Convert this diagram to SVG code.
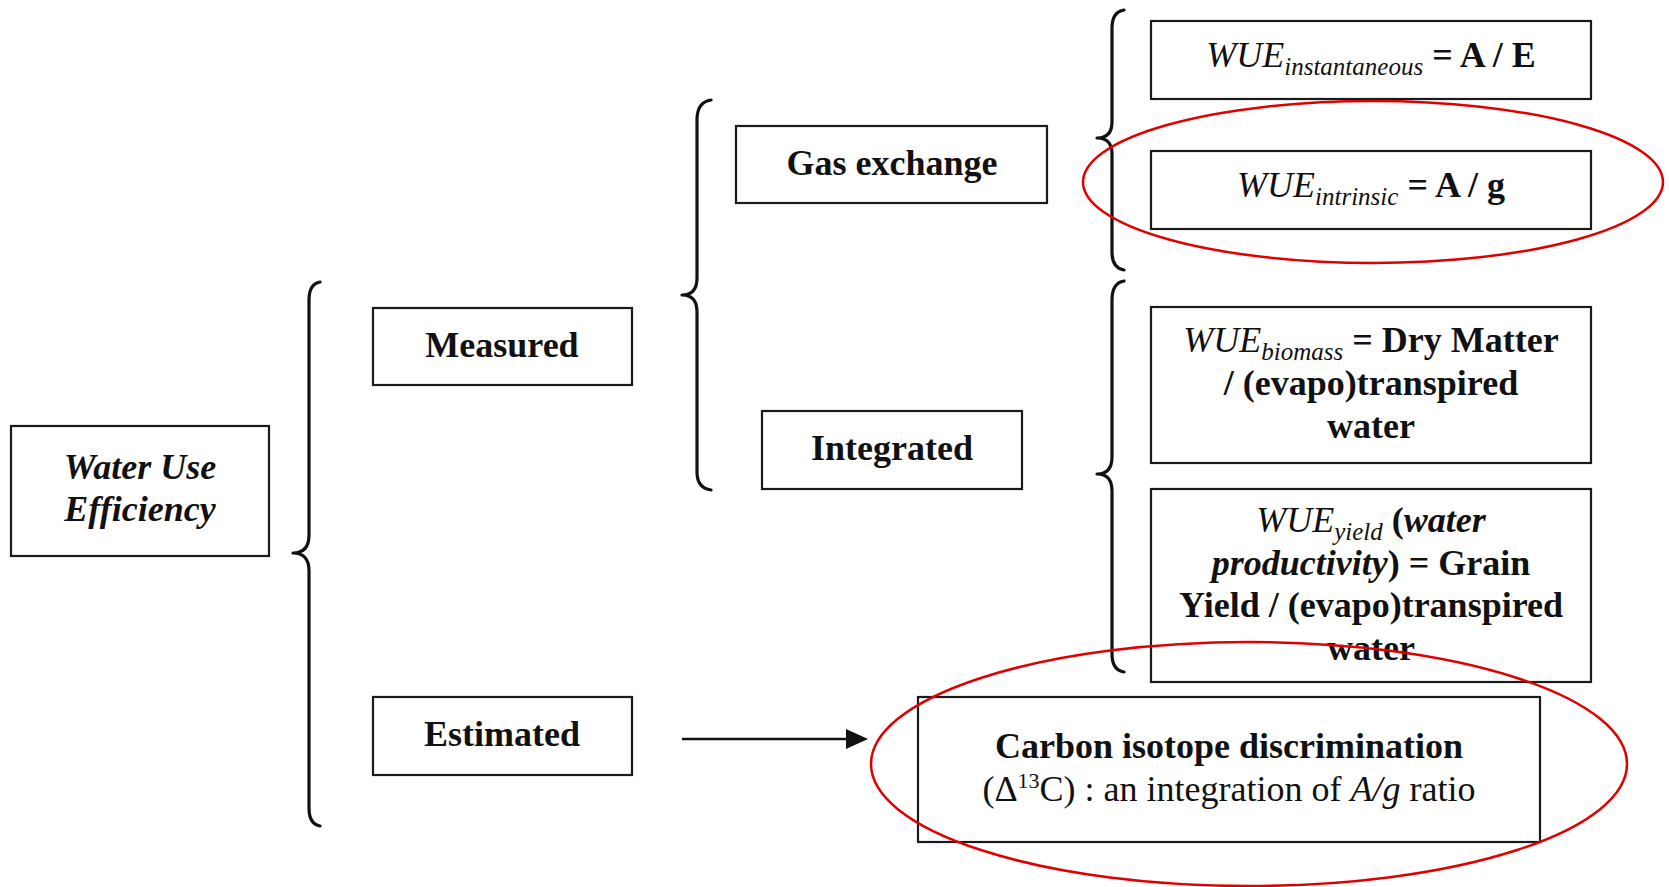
<svg xmlns="http://www.w3.org/2000/svg" width="1669" height="887" viewBox="0 0 1669 887">
<style>
.box{fill:#fff;stroke:#1a1a1a;stroke-width:2.2}
.t{font-family:"Liberation Serif","Times New Roman",serif;font-size:36px;fill:#111;text-anchor:middle}
.b{font-weight:bold}
.i{font-style:italic}
.sub{font-size:25px}
.brace{fill:none;stroke:#111;stroke-width:3.2;stroke-linecap:round;stroke-linejoin:round}
.conn{fill:none;stroke:#111;stroke-width:2.5}
.red{fill:none;stroke:#e00000;stroke-width:2.5}
</style>
<defs>
<marker id="arr" markerWidth="10" markerHeight="10" refX="8" refY="5" orient="auto" markerUnits="userSpaceOnUse" viewBox="0 0 10 10">
<path d="M0,0 L10,5 L0,10 z" fill="#111"/>
</marker>
</defs>
<rect width="1669" height="887" fill="#fff"/>

<g id="connectors">
<path class="brace" d="M320,282 Q309,284 309,300 L309,535 Q309,553 293,553 Q309,553 309,571 L309,808 Q309,824 320,826"/>
<path class="brace" d="M711,100 Q697,102 697,120 L697,278 Q697,295 682,295 Q697,295 697,312 L697,472 Q697,488 711,490"/>
<path class="brace" d="M1124,10 Q1112,12 1112,28 L1112,122 Q1112,138 1097,138 Q1112,138 1112,154 L1112,252 Q1112,268 1124,270"/>
<path class="brace" d="M1124,281 Q1112,283 1112,300 L1112,457 Q1112,474 1097,474 Q1112,474 1112,491 L1112,654 Q1112,670 1124,672"/>
<line class="conn" x1="682" y1="739" x2="858" y2="739"/>
<path d="M846,729 L868,739 L846,749 z" fill="#111"/>
</g>

<g id="n-wue">
<rect class="box" x="11" y="426" width="258" height="130"/>
<text class="t b i" x="140" y="479">Water Use</text>
<text class="t b i" x="140" y="521">Efficiency</text>
</g>

<g id="n-measured">
<rect class="box" x="373" y="308" width="259" height="77"/>
<text class="t b" x="502" y="357">Measured</text>
</g>

<g id="n-estimated">
<rect class="box" x="373" y="697" width="259" height="78"/>
<text class="t b" x="502" y="746">Estimated</text>
</g>

<g id="n-gas">
<rect class="box" x="736" y="126" width="311" height="77"/>
<text class="t b" x="892" y="175">Gas exchange</text>
</g>

<g id="n-integrated">
<rect class="box" x="762" y="411" width="260" height="78"/>
<text class="t b" x="892" y="460">Integrated</text>
</g>

<g id="n-inst">
<rect class="box" x="1151" y="21" width="440" height="78"/>
<text class="t" x="1371" y="67"><tspan class="i">WUE</tspan><tspan class="i sub" dy="8">instantaneous</tspan><tspan class="b" dy="-8"> = A / E</tspan></text>
</g>

<g id="n-intrinsic">
<rect class="box" x="1151" y="151" width="440" height="78"/>
<text class="t" x="1371" y="197"><tspan class="i">WUE</tspan><tspan class="i sub" dy="8">intrinsic</tspan><tspan class="b" dy="-8"> = A / g</tspan></text>
</g>

<g id="n-biomass">
<rect class="box" x="1151" y="307" width="440" height="156"/>
<text class="t" x="1371" y="352"><tspan class="i">WUE</tspan><tspan class="i sub" dy="8">biomass</tspan><tspan class="b" dy="-8"> = Dry Matter</tspan></text>
<text class="t b" x="1371" y="395">/ (evapo)transpired</text>
<text class="t b" x="1371" y="438">water</text>
</g>

<g id="n-yield">
<rect class="box" x="1151" y="489" width="440" height="193"/>
<text class="t" x="1371" y="532"><tspan class="i">WUE</tspan><tspan class="i sub" dy="8">yield</tspan><tspan class="b" dy="-8"> (</tspan><tspan class="b i">water</tspan></text>
<text class="t b" x="1371" y="575"><tspan class="i">productivity</tspan>) = Grain</text>
<text class="t b" x="1371" y="617">Yield / (evapo)transpired</text>
<text class="t b" x="1371" y="660">water</text>
</g>

<g id="n-carbon">
<rect class="box" x="918" y="697" width="622" height="145"/>
<text class="t b" x="1229" y="758">Carbon isotope discrimination</text>
<text class="t" x="1229" y="801">(Δ<tspan font-size="22" dy="-13">13</tspan><tspan dy="13">C) : an integration of </tspan><tspan class="i">A/g</tspan> ratio</text>
</g>

<g id="highlights">
<ellipse class="red" cx="1373" cy="182" rx="290" ry="81"/>
<ellipse class="red" cx="1249" cy="764" rx="378" ry="122"/>
</g>
</svg>
